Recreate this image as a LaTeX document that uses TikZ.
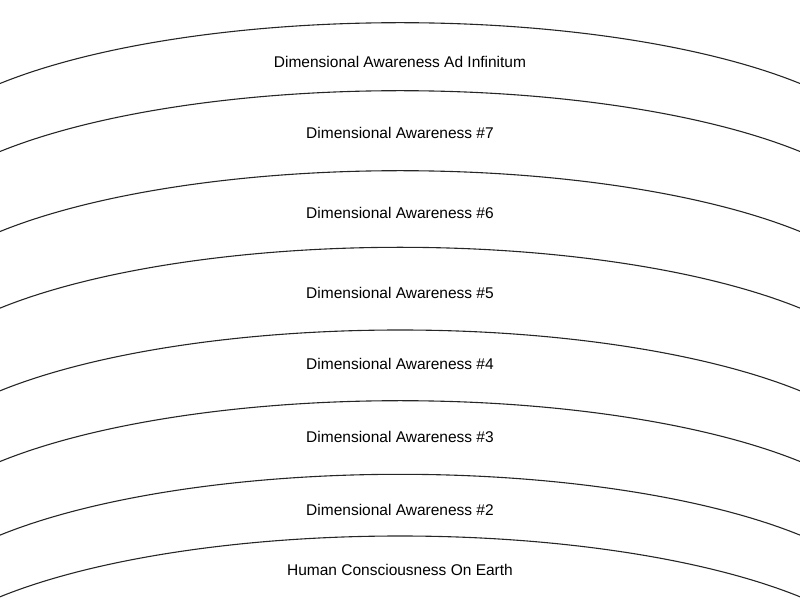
\documentclass[tikz,border=0pt]{standalone}
\usepackage{fontspec}
\setmainfont{Liberation Sans}
\begin{document}
\begin{tikzpicture}[x=1pt,y=1pt,
  layer/.style={draw=black!85,line width=1.1pt},
  lbl/.style={font=\fontsize{15.5}{18}\selectfont,text=black,inner sep=0pt,anchor=center}]
\useasboundingbox (0,0) rectangle (800,600);
\foreach \t in {22.7,90.7,170.7,247.3,330,400.7,474.3,536}{
  \draw[layer] (800,{600-\t-60.8}) arc[start angle=36.87,end angle=143.13,x radius=500,y radius=152];
}
\node[lbl] (l8) at (400,{600-61.5}) {Dimensional Awareness Ad Infinitum};
\node[lbl] (l7) at (400,{600-133}) {Dimensional Awareness \#7};
\node[lbl] (l6) at (400,{600-213}) {Dimensional Awareness \#6};
\node[lbl] (l5) at (400,{600-292.5}) {Dimensional Awareness \#5};
\node[lbl] (l4) at (400,{600-364}) {Dimensional Awareness \#4};
\node[lbl] (l3) at (400,{600-437}) {Dimensional Awareness \#3};
\node[lbl] (l2) at (400,{600-510}) {Dimensional Awareness \#2};
\node[lbl] (l1) at (400,{600-570}) {Human Consciousness On Earth};
\end{tikzpicture}
\end{document}
